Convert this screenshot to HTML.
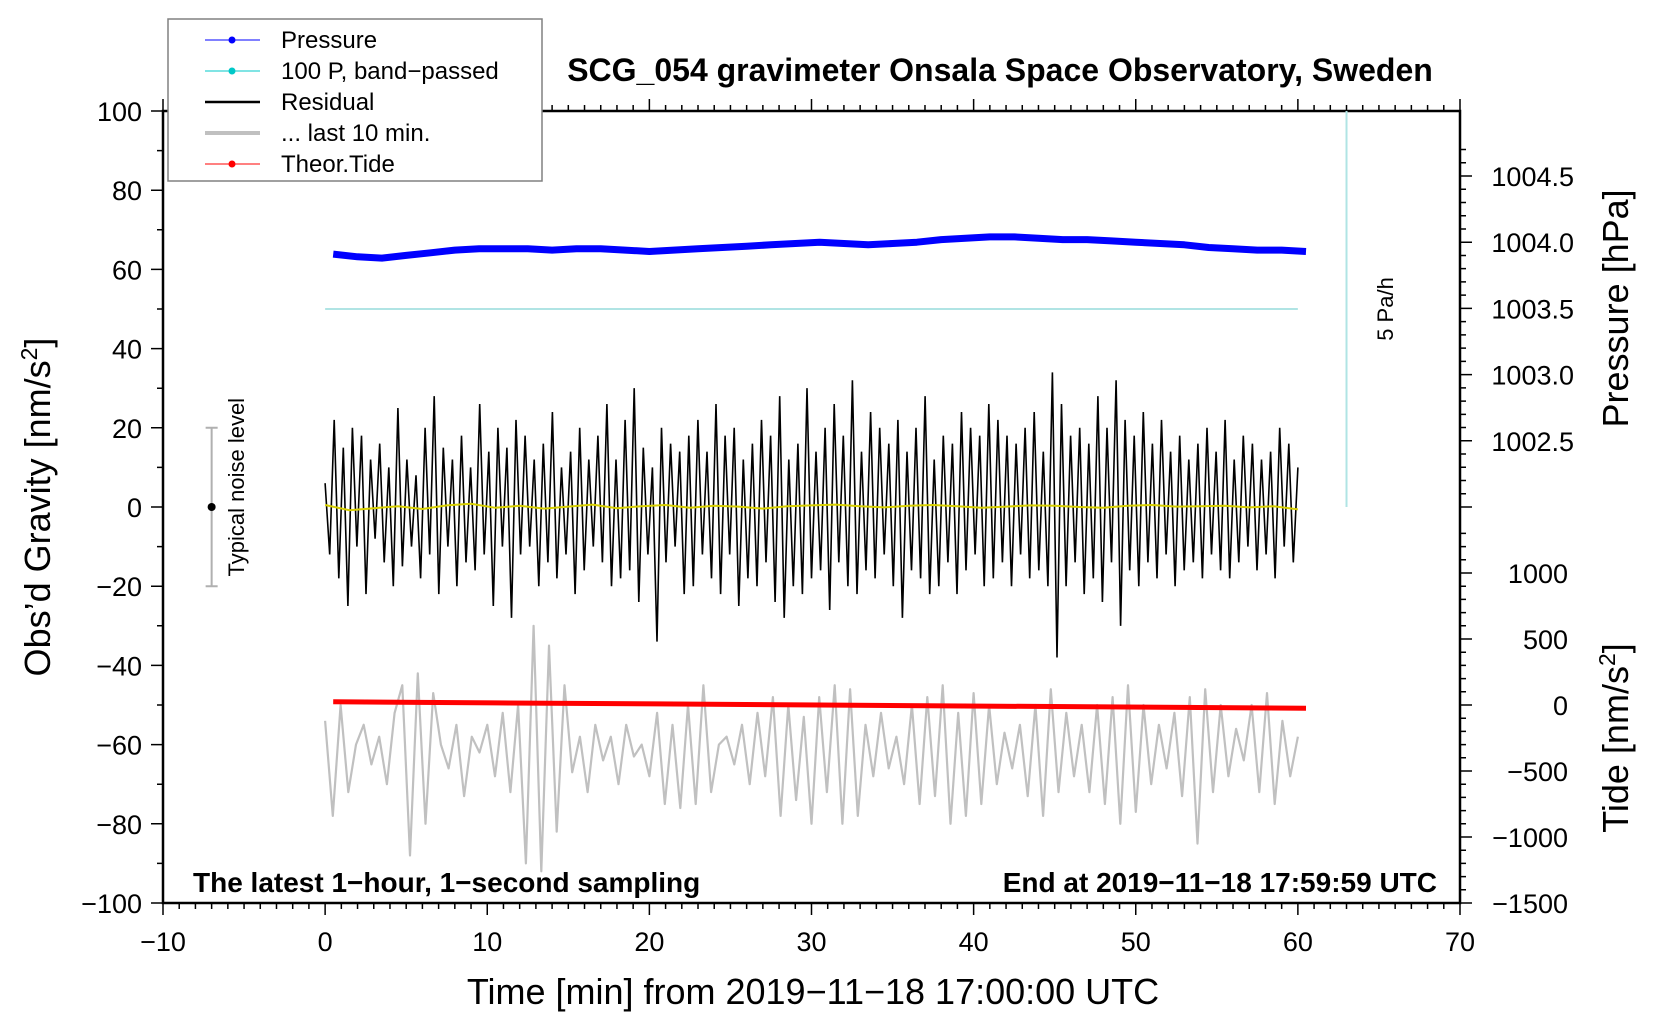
<!DOCTYPE html>
<html><head><meta charset="utf-8"><style>
html,body{margin:0;padding:0;background:#fff}
svg{display:block;font-family:"Liberation Sans",Arial,sans-serif}
</style></head><body>
<svg id="chart" width="1660" height="1020" viewBox="0 0 1660 1020" xmlns="http://www.w3.org/2000/svg">
<g id="layer"></g>
</svg>
<script>
const xTicks=[-10,0,10,20,30,40,50,60,70];
const yTicks=[100,80,60,40,20,0,-20,-40,-60,-80,-100];
const pTicks=["1004.5","1004.0","1003.5","1003.0","1002.5"];
const tideTicks=[1000,500,0,-500,-1000,-1500];
const pressureVals=[1003.91,1003.89,1003.88,1003.90,1003.92,1003.94,1003.95,1003.95,1003.95,1003.94,1003.95,1003.95,1003.94,1003.93,1003.94,1003.95,1003.96,1003.97,1003.98,1003.99,1004.00,1003.99,1003.98,1003.99,1004.00,1004.02,1004.03,1004.04,1004.04,1004.03,1004.02,1004.02,1004.01,1004.00,1003.99,1003.98,1003.96,1003.95,1003.94,1003.94,1003.93];
const residualVals=[6,-12,22,-18,15,-25,20,-10,18,-22,12,-8,16,-14,10,-20,25,-15,12,-10,8,-18,20,-12,28,-22,15,-10,12,-20,18,-14,10,-16,26,-12,14,-25,20,-10,15,-28,22,-12,18,-10,12,-20,16,-14,24,-18,10,-12,14,-22,20,-16,12,-10,18,-14,26,-20,12,-18,22,-16,30,-24,15,-12,10,-34,20,-14,16,-10,14,-22,18,-20,22,-12,14,-18,26,-22,18,-12,20,-25,12,-18,16,-20,22,-14,18,-24,28,-28,12,-20,16,-22,30,-18,14,-16,20,-26,26,-14,18,-20,32,-22,14,-16,24,-18,20,-12,16,-20,22,-28,14,-16,20,-18,28,-22,12,-20,18,-14,16,-22,24,-16,20,-12,18,-20,26,-18,22,-14,18,-20,16,-12,20,-18,24,-16,14,-20,34,-38,26,-20,18,-14,20,-22,16,-18,28,-24,20,-14,32,-30,22,-16,18,-20,24,-14,16,-18,22,-12,14,-20,18,-16,12,-14,16,-18,20,-12,14,-16,22,-18,12,-14,18,-10,16,-16,12,-12,14,-18,20,-10,16,-14,10];
const smoothVals=[0.5,-0.8,-0.3,0.2,-0.5,0.4,0.8,-0.2,0.3,-0.4,0.1,0.6,-0.3,0.2,0.5,-0.2,0.3,0.1,-0.4,0.2,0.4,0.6,0.2,-0.1,0.3,0.5,0.2,-0.2,0.1,0.4,0.3,0.0,-0.2,0.3,0.5,0.1,0.2,0.3,-0.1,0.2,-0.6];
const grayVals=[-54,-78,-50,-72,-60,-55,-65,-58,-70,-52,-45,-88,-42,-80,-47,-60,-66,-55,-73,-58,-62,-55,-68,-52,-72,-50,-90,-30,-92,-35,-82,-45,-67,-58,-72,-55,-64,-58,-70,-55,-63,-60,-68,-52,-75,-55,-76,-50,-75,-45,-72,-60,-58,-65,-55,-70,-52,-68,-48,-78,-50,-74,-53,-80,-48,-72,-45,-80,-46,-78,-55,-68,-52,-66,-58,-70,-50,-75,-48,-73,-45,-80,-52,-78,-47,-75,-50,-70,-57,-66,-55,-73,-50,-78,-46,-72,-52,-68,-55,-72,-50,-75,-48,-80,-45,-77,-50,-70,-55,-66,-52,-73,-48,-85,-46,-72,-50,-68,-56,-64,-50,-72,-47,-75,-54,-68,-58];
const tideTimes=[0.5,10.5,20.5,30.5,40.5,50.5,60.5];
const tideVals=[24,16,8,0,-8,-16,-24];
const bandLevel=[50];

const X0=163,X1=1460,YT=111,YB=903;
const xs=t=>X0+(t+10)/80*(X1-X0);
const ys=g=>YT+(100-g)/200*(YB-YT);
const ps=p=>176+(1004.5-p)/0.5*66.2;
const ts=v=>573+(1000-v)/500*66;
const NS="http://www.w3.org/2000/svg";
const L=document.getElementById('layer');
function mk(tag,attrs,parent){const e=document.createElementNS(NS,tag);for(const k in attrs)e.setAttribute(k,attrs[k]);(parent||L).appendChild(e);return e;}
function txt(s,attrs,parent){const e=mk('text',attrs,parent);e.textContent=s;return e;}
const tickG=mk('g',{});


let d='';
for(let t=-10;t<=70;t++){const x=xs(t);const len=(t%10===0)?12:6;d+=`M${x} ${YB}v${len}M${x} ${YT}v${-len}`;}
for(let g=-100;g<=100;g+=10){const y=ys(g);const len=(g%20===0)?12:6;d+=`M${X0} ${y}h${-len}`;}
for(let p=1004.7;p>=1001.99;p-=0.1){const y=ps(p);if(y<YT)continue;const maj=Math.abs(p*2-Math.round(p*2))<0.01;d+=`M${X1} ${y}h${maj?12:6}`;}
for(let v=1300;v>=-1500;v-=100){const y=ts(v);if(y>YB+1)continue;d+=`M${X1} ${y}h${(v%500===0)?12:6}`;}
mk('path',{d:d,stroke:'#000','stroke-width':1.5,fill:'none'},tickG);
const frame=mk('rect',{x:X0,y:YT,width:X1-X0,height:YB-YT,fill:'none',stroke:'#000','stroke-width':2.5});



const labs=mk('g',{'font-size':27,fill:'#000'});


xTicks.forEach(t=>txt(String(t).replace('-','\u2212'),{x:xs(t),y:951,'text-anchor':'middle'},labs));
yTicks.forEach(g=>txt(String(g).replace('-','\u2212'),{x:142,y:ys(g)+10,'text-anchor':'end'},labs));
pTicks.forEach(p=>txt(p,{x:1574,y:ps(parseFloat(p))+10,'text-anchor':'end'},labs));
tideTicks.forEach(v=>txt(String(v).replace('-','\u2212'),{x:1568,y:ts(v)+10,'text-anchor':'end'},labs));

const band=mk('path',{d:`M${xs(0)} ${ys(bandLevel[0])}H${xs(60)}`,stroke:'#b0e4e4','stroke-width':2,fill:'none'});


const vscale=mk('path',{d:`M${xs(63)} ${ys(0)}V${ys(100)}`,stroke:'#b0e4e4','stroke-width':2,fill:'none'});



let gp=grayVals.map((v,i)=>`${xs(i*60/(grayVals.length-1)).toFixed(1)},${ys(v).toFixed(1)}`).join(' ');
const gray=mk('polyline',{points:gp,fill:'none',stroke:'#c0c0c0','stroke-width':2.2,'stroke-linejoin':'round'});



let rp=residualVals.map((v,i)=>`${xs(i*60/(residualVals.length-1)).toFixed(1)},${ys(v).toFixed(1)}`).join(' ');
const res=mk('polyline',{points:rp,fill:'none',stroke:'#000','stroke-width':1.6});


let sp=smoothVals.map((v,i)=>`${xs(i*60/(smoothVals.length-1)).toFixed(1)},${ys(v).toFixed(1)}`).join(' ');
const sm=mk('polyline',{points:sp,fill:'none',stroke:'#d8d000','stroke-width':2});



let pp=pressureVals.map((v,i)=>`${xs(0.5+i*60/(pressureVals.length-1)).toFixed(1)},${ps(v).toFixed(1)}`).join(' ');
const pres=mk('polyline',{points:pp,fill:'none',stroke:'#0000ff','stroke-width':7,'stroke-linejoin':'round'});



let tp=tideVals.map((v,i)=>`${xs(tideTimes[i]).toFixed(1)},${ts(v).toFixed(1)}`).join(' ');
const tide=mk('polyline',{points:tp,fill:'none',stroke:'#ff0000','stroke-width':5});



const nb=mk('g',{});


mk('path',{d:`M${xs(-7)} ${ys(20)}V${ys(-20)}M${xs(-7)-6} ${ys(20)}h12M${xs(-7)-6} ${ys(-20)}h12`,stroke:'#b0b0b0','stroke-width':2,fill:'none'},nb);
mk('circle',{cx:xs(-7),cy:ys(0),r:4,fill:'#000'},nb);
txt('Typical noise level',{x:0,y:0,'font-size':22,'text-anchor':'middle',transform:`translate(244 ${ys(5)}) rotate(-90)`},nb);

txt('5 Pa/h',{x:0,y:0,'font-size':22,'text-anchor':'middle',transform:`translate(1393 ${ys(50)}) rotate(-90)`});

const t1=txt('SCG_054 gravimeter Onsala Space Observatory, Sweden',{x:1000,y:81,'font-size':32,'font-weight':'bold','text-anchor':'middle'});


txt('The latest 1\u2212hour, 1\u2212second sampling',{x:193,y:892,'font-size':28,'font-weight':'bold'});
txt('End at 2019\u221211\u221218 17:59:59 UTC',{x:1437,y:892,'font-size':28,'font-weight':'bold','text-anchor':'end'});
txt('Time [min] from 2019\u221211\u221218 17:00:00 UTC',{x:813,y:1004,'font-size':36,'text-anchor':'middle'});
const yt=mk('text',{x:0,y:0,'font-size':36,'text-anchor':'middle',transform:`translate(50 ${ys(0)}) rotate(-90)`});


yt.innerHTML='Obs\u2019d Gravity [nm/s<tspan dy="-13" font-size="23">2</tspan><tspan dy="13">]</tspan>';
txt('Pressure [hPa]',{x:0,y:0,'font-size':36,'text-anchor':'middle',transform:`translate(1628 ${ps(1003.5)}) rotate(-90)`});
const tt=mk('text',{x:0,y:0,'font-size':36,'text-anchor':'middle',transform:`translate(1628 ${ts(-250)}) rotate(-90)`});


tt.innerHTML='Tide [nm/s<tspan dy="-13" font-size="23">2</tspan><tspan dy="13">]</tspan>';

const lg=mk('g',{});


mk('rect',{x:168,y:19,width:374,height:162,fill:'#fff',stroke:'#808080','stroke-width':1.5},lg);
const items=[['Pressure','#0000ff',1,true],['100 P, band\u2212passed','#00c8c8',1,true],['Residual','#000',2.5,false],['... last 10 min.','#c0c0c0',4,false],['Theor.Tide','#ff0000',1,true]];
items.forEach((it,i)=>{const y=40+i*31;const e=mk('g',{},lg);


mk('path',{d:`M205 ${y}H260`,stroke:it[1],'stroke-width':it[2]},e);
if(it[3])mk('circle',{cx:232,cy:y,r:3.5,fill:it[1]},e);
txt(it[0],{x:281,y:y+8,'font-size':24},e);});
</script>
</body></html>
